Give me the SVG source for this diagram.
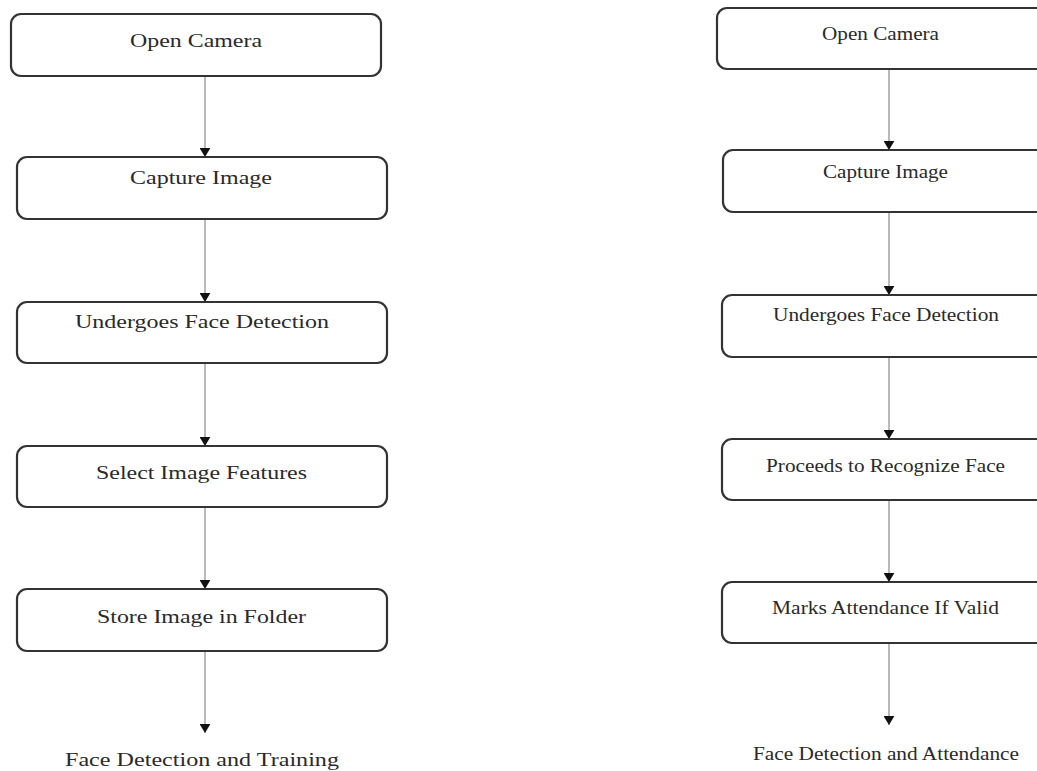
<svg xmlns="http://www.w3.org/2000/svg" width="1037" height="771" viewBox="0 0 1037 771">
<style>
.box{fill:#fff;stroke:#333;stroke-width:2.2}
.lbl{font-family:"Liberation Serif","Times New Roman",serif;font-size:19px;fill:#2a2a2a}
.conn{stroke:#8a8a8a;stroke-width:1.2;fill:none;marker-end:url(#ah)}
</style>
<defs>
<marker id="ah" viewBox="0 0 10 12" refX="10" refY="6" markerWidth="9" markerHeight="11" markerUnits="userSpaceOnUse" orient="auto">
<path d="M0,0 L10,6 L0,12 Z" fill="#111"/>
</marker>
</defs>
<rect width="1037" height="771" fill="#fff"/>
<g id="connectors">
<line class="conn" x1="205" y1="77" x2="205" y2="157"/>
<line class="conn" x1="205" y1="220" x2="205" y2="302"/>
<line class="conn" x1="205" y1="364" x2="205" y2="446"/>
<line class="conn" x1="205" y1="508" x2="205" y2="589"/>
<line class="conn" x1="205" y1="652" x2="205" y2="733"/>
<line class="conn" x1="889" y1="70" x2="889" y2="150"/>
<line class="conn" x1="889" y1="213" x2="889" y2="295"/>
<line class="conn" x1="889" y1="358" x2="889" y2="439"/>
<line class="conn" x1="889" y1="501" x2="889" y2="582"/>
<line class="conn" x1="889" y1="644" x2="889" y2="725"/>
</g>
<g id="l1"><rect class="box" x="11" y="14" width="370" height="62" rx="10"/><text class="lbl" x="130" y="47" textLength="132" lengthAdjust="spacingAndGlyphs">Open Camera</text></g>
<g id="l2"><rect class="box" x="17" y="157" width="370" height="62" rx="10"/><text class="lbl" x="130" y="184" textLength="142" lengthAdjust="spacingAndGlyphs">Capture Image</text></g>
<g id="l3"><rect class="box" x="17" y="302" width="370" height="61" rx="10"/><text class="lbl" x="75" y="328" textLength="254" lengthAdjust="spacingAndGlyphs">Undergoes Face Detection</text></g>
<g id="l4"><rect class="box" x="17" y="446" width="370" height="61" rx="10"/><text class="lbl" x="96" y="479" textLength="211" lengthAdjust="spacingAndGlyphs">Select Image Features</text></g>
<g id="l5"><rect class="box" x="17" y="589" width="370" height="62" rx="10"/><text class="lbl" x="97" y="623" textLength="209" lengthAdjust="spacingAndGlyphs">Store Image in Folder</text></g>
<g id="l6"><text class="lbl" x="65" y="766" textLength="274" lengthAdjust="spacingAndGlyphs">Face Detection and Training</text></g>
<g id="r1"><rect class="box" x="717" y="8" width="340" height="61" rx="10"/><text class="lbl" x="822" y="40" textLength="117" lengthAdjust="spacingAndGlyphs">Open Camera</text></g>
<g id="r2"><rect class="box" x="723" y="150" width="340" height="62" rx="10"/><text class="lbl" x="823" y="178" textLength="125" lengthAdjust="spacingAndGlyphs">Capture Image</text></g>
<g id="r3"><rect class="box" x="722" y="295" width="340" height="62" rx="10"/><text class="lbl" x="773" y="321" textLength="226" lengthAdjust="spacingAndGlyphs">Undergoes Face Detection</text></g>
<g id="r4"><rect class="box" x="722" y="439" width="340" height="61" rx="10"/><text class="lbl" x="766" y="472" textLength="239" lengthAdjust="spacingAndGlyphs">Proceeds to Recognize Face</text></g>
<g id="r5"><rect class="box" x="722" y="582" width="340" height="61" rx="10"/><text class="lbl" x="772" y="614" textLength="227" lengthAdjust="spacingAndGlyphs">Marks Attendance If Valid</text></g>
<g id="r6"><text class="lbl" x="753" y="760" textLength="266" lengthAdjust="spacingAndGlyphs">Face Detection and Attendance</text></g>
</svg>
